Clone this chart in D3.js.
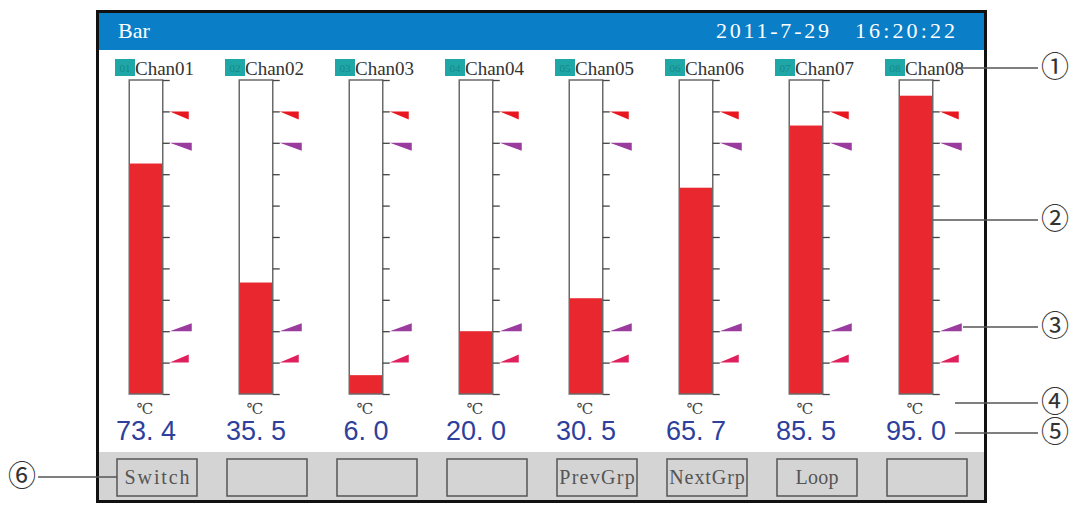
<!DOCTYPE html>
<html><head><meta charset="utf-8">
<script src="https://cdn.jsdelivr.net/npm/d3@7"></script>
<style>body{margin:0;background:#fff}svg{display:block}</style>
</head><body>
<svg id="c" width="1069" height="505"></svg>
<script>
const channels = ["Chan01","Chan02","Chan03","Chan04","Chan05","Chan06","Chan07","Chan08"];
const codes = ["01","02","03","04","05","06","07","08"];
const values = [73.4, 35.5, 6.0, 20.0, 30.5, 65.7, 85.5, 95.0];
const unitLabel = "℃";
const alarmHigh = [90, 80];   // upper markers (HH, H)
const alarmLow = [20, 10];    // lower markers (L, LL)
const buttons = ["Switch","","","","PrevGrp","NextGrp","Loop",""];
const title = "Bar";
const dateText = "2011-7-29";
const timeText = "16:20:22";
const callouts = ["①","②","③","④","⑤"];
const calloutLeft = "⑥";

const svg = d3.select("#c");
const serif = "'Liberation Serif','DejaVu Serif',serif";

// frame
svg.append("rect").attr("x",97.5).attr("y",11.5).attr("width",888).attr("height",490)
  .attr("fill","#fff").attr("stroke","#111").attr("stroke-width",3);
svg.append("rect").attr("x",99).attr("y",13).attr("width",885).attr("height",37).attr("fill","#0a7fc8");
svg.append("text").attr("x",118).attr("y",38).attr("fill","#fff").attr("font-family",serif)
  .attr("font-size",22).text(title);
svg.append("text").attr("x",716).attr("y",38).attr("fill","#fff").attr("font-family",serif)
  .attr("font-size",22).attr("textLength",113).text(dateText);
svg.append("text").attr("x",855).attr("y",38).attr("fill","#fff").attr("font-family",serif)
  .attr("font-size",22).attr("textLength",100).text(timeText);

// scales
const x = d3.scalePoint().domain(channels).range([146, 916]);
const y = d3.scaleLinear().domain([0,100]).range([394, 80]);
const barW = 33.5;

const g = svg.append("g");
const ch = g.selectAll("g.ch").data(channels).join("g").attr("class","ch")
  .attr("transform", d => `translate(${x(d)},0)`);

// labels
ch.append("rect").attr("x",-31).attr("y",59).attr("width",20).attr("height",17).attr("fill","#1fa6a6");
ch.append("text").attr("x",-21).attr("y",72).attr("text-anchor","middle").attr("font-size",11)
  .attr("font-family",serif).attr("fill","#168a8a").text((d,i)=>codes[i]);
ch.append("text").attr("x",-11).attr("y",75).attr("font-family",serif).attr("font-size",19)
  .attr("fill","#333").attr("textLength",59).text(d=>d);

// fill
ch.append("rect").attr("x",-barW/2).attr("width",barW)
  .attr("y",(d,i)=>y(values[i])).attr("height",(d,i)=>y(0)-y(values[i])).attr("fill","#e8282e");
// outline
ch.append("rect").attr("x",-barW/2).attr("y",y(100)).attr("width",barW).attr("height",y(0)-y(100))
  .attr("fill","none").attr("stroke","#6a6a6a").attr("stroke-width",1.5);
// ticks
ch.each(function(){
  const axis = d3.axisRight(y).ticks(10).tickSize(7).tickFormat("");
  const a = d3.select(this).append("g").attr("transform",`translate(${barW/2},0)`).call(axis);
  a.select(".domain").remove();
  a.selectAll("line").attr("stroke","#444").attr("stroke-width",1.3);
});
// alarm markers
const tx = barW/2 + 7;
const hiColors = ["#e8161e","#9a3b9e"];
const loColors = ["#9a3b9e","#e0205c"];
alarmHigh.forEach((v,k)=>{
  const w = k===0 ? 19 : 22;
  ch.append("path").attr("fill",hiColors[k])
    .attr("d",`M${tx},${y(v)}L${tx+w},${y(v)}L${tx+w},${y(v)+8}Z`);
});
alarmLow.forEach((v,k)=>{
  const w = k===0 ? 22 : 19;
  ch.append("path").attr("fill",loColors[k])
    .attr("d",`M${tx},${y(v)}L${tx+w},${y(v)}L${tx+w},${y(v)-8}Z`);
});
// unit & value
ch.append("text").attr("x",-1).attr("y",414).attr("text-anchor","middle").attr("font-size",15)
  .attr("font-family",serif).attr("fill","#444").text(unitLabel);
ch.append("text").attr("x",0).attr("y",440).attr("text-anchor","middle").attr("font-size",27)
  .attr("font-family","'Liberation Sans',Arial,sans-serif").attr("fill","#2e3f9c")
  .attr("xml:space","preserve")
  .text((d,i)=>values[i].toFixed(1).replace("."," . ").replace(" .","."));

// button strip
svg.append("rect").attr("x",99).attr("y",452).attr("width",885).attr("height",48).attr("fill","#d4d4d4");
const bx = d3.scalePoint().domain(d3.range(buttons.length)).range([157, 927]);
const bt = svg.selectAll("g.bt").data(buttons).join("g").attr("class","bt")
  .attr("transform",(d,i)=>`translate(${bx(i)},0)`);
bt.append("rect").attr("x",-40).attr("y",459).attr("width",80).attr("height",37)
  .attr("fill","none").attr("stroke","#555").attr("stroke-width",1.5);
bt.filter(d=>d.length>0).append("text").attr("x",0).attr("y",484).attr("text-anchor","middle")
  .attr("font-family",serif).attr("font-size",20)
  .attr("textLength",d=>d.length*10.8).attr("lengthAdjust","spacing")
  .attr("fill","#555").text(d=>d);

// callouts
const cy = [68, 220, 327, 403, 433];
const cx0 = [957, 933, 963, 955, 955];
const cg = svg.append("g");
const cfont = "'DejaVu Serif','Noto Sans CJK SC',serif";
callouts.forEach((c,i)=>{
  cg.append("line").attr("x1",cx0[i]).attr("x2",1038).attr("y1",cy[i]).attr("y2",cy[i])
    .attr("stroke","#555").attr("stroke-width",1.5);
  cg.append("text").attr("x",1055).attr("y",cy[i]+9).attr("text-anchor","middle")
    .attr("font-family",cfont).attr("font-size",28)
    .attr("fill","#333").text(c);
});
cg.append("line").attr("x1",38).attr("x2",117).attr("y1",477).attr("y2",477)
  .attr("stroke","#555").attr("stroke-width",1.5);
cg.append("text").attr("x",22).attr("y",486).attr("text-anchor","middle")
  .attr("font-family",cfont).attr("font-size",28)
  .attr("fill","#333").text(calloutLeft);
</script>
</body></html>
